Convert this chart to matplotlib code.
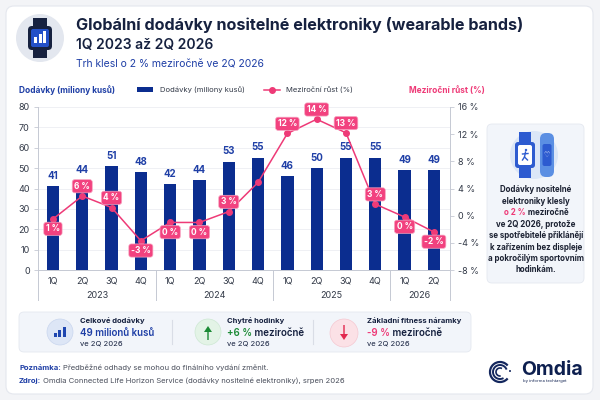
import matplotlib
matplotlib.use("Agg")
import matplotlib.pyplot as plt
from matplotlib.patches import FancyBboxPatch, Circle, Rectangle, Arc, FancyArrow
from matplotlib.lines import Line2D
from matplotlib.transforms import blended_transform_factory

plt.rcParams['font.family'] = ['Inter', 'DejaVu Sans']

# data
quarters = ['1Q', '2Q', '3Q', '4Q', '1Q', '2Q', '3Q', '4Q', '1Q', '2Q', '3Q', '4Q', '1Q', '2Q']
years = ['2023', '2024', '2025', '2026']
quarters_per_year = [4, 4, 4, 2]
shipments = [41, 44, 51, 48, 42, 44, 53, 55, 46, 50, 55, 55, 49, 49]
yoy_points = [-0.5, 2.9, 1.2, -3.7, -1.0, -1.0, 0.6, 4.9, 12.1, 14.2, 12.2, 1.7, -0.2, -2.4]
yoy_labels = ['1 %', '6 %', '4 %', '-3 %', '0 %', '0 %', '3 %', '', '12 %', '14 %', '13 %', '3 %', '0 %', '-2 %']
left_ticks = [0, 10, 20, 30, 40, 50, 60, 70, 80]
right_ticks = [-8, -4, 0, 4, 8, 12, 16]

NAVY = '#16213f'
BLUE = '#0b2d8f'
TXTBLUE = '#1f3fa6'
PINK = '#ee3a77'
GREY = '#4a4f5c'

fig = plt.figure(figsize=(6, 4), dpi=100)
fig.patch.set_facecolor('#f3f4f7')

# background / annotation layer in pixel coords
ax0 = fig.add_axes([0, 0, 1, 1])
ax0.set_xlim(0, 600)
ax0.set_ylim(400, 0)
ax0.axis('off')
ax0.set_zorder(0)
R = fig.canvas.get_renderer()


def rich(x, y, parts, ha='left', **kw):
    ts = [ax0.text(0, y, s, color=c, va='center', **kw) for s, c in parts]
    ws = [t.get_window_extent(R).width for t in ts]
    start = x - sum(ws) / 2 if ha == 'center' else x
    for t, w in zip(ts, ws):
        t.set_x(start)
        start += w
    return sum(ws)


ax0.add_patch(FancyBboxPatch((6, 6), 587, 388, boxstyle='round,pad=0,rounding_size=8',
                             fc='white', ec='#e4e7ee', lw=0.8))

# header icon
ax0.add_patch(Circle((40, 38), 24, fc='#e3e7ef', ec='none'))
ax0.add_patch(Rectangle((33, 18), 14, 40, fc=NAVY, ec='none'))
ax0.add_patch(FancyBboxPatch((28, 26), 24, 24, boxstyle='round,pad=0,rounding_size=4', fc=NAVY, ec='none'))
ax0.add_patch(FancyBboxPatch((31, 29), 18, 18, boxstyle='round,pad=0,rounding_size=2', fc='#2350c8', ec='none'))
for bx, bh in [(34, 6), (38.5, 9), (43, 12)]:
    ax0.add_patch(Rectangle((bx, 43 - bh), 3, bh, fc='white', ec='none'))

ax0.text(76, 25, 'Globální dodávky nositelné elektroniky (wearable bands)', fontsize=11.6,
         fontweight='bold', color=NAVY, va='center')
ax0.text(76, 45, '1Q 2023 až 2Q 2026', fontsize=10, fontweight='semibold', color=NAVY, va='center')
ax0.text(76, 64, 'Trh klesl o 2 % meziročně ve 2Q 2026', fontsize=7.5, color=TXTBLUE, va='center')

ax0.text(19, 90, 'Dodávky (miliony kusů)', fontsize=6, fontweight='bold', color=TXTBLUE, va='center')
ax0.text(409, 90, 'Meziroční růst (%)', fontsize=6, fontweight='bold', color=PINK, va='center')

# chart
ax = fig.add_axes([38 / 600, 130 / 400, 412 / 600, 163 / 400])
ax.set_zorder(2)
ax.patch.set_alpha(0)
x = list(range(len(shipments)))
ax.set_xlim(-0.51, 13.55)
ax.set_ylim(0, 80)
ax.bar(x, shipments, width=0.42, color=BLUE, zorder=2, label='Dodávky (miliony kusů)')
for xi, v in zip(x, shipments):
    ax.annotate(str(v), (xi, v), xytext=(0, 4), textcoords='offset points', ha='center', va='bottom',
                fontsize=7, fontweight='bold', color=TXTBLUE)
ax.set_yticks(left_ticks)
ax.set_yticklabels([str(t) for t in left_ticks])
ax.grid(axis='y', color='#eceef3', lw=0.6, zorder=0)
ax.set_xticks(x)
ax.set_xticklabels(quarters)
ax.tick_params(axis='x', length=0, pad=5, labelsize=6.5, labelcolor='#333a48')
ax.tick_params(axis='y', length=3, width=0.6, color='#c5c9d3', pad=3, labelsize=6.5, labelcolor='#333a48')
for s in ['top', 'right']:
    ax.spines[s].set_visible(False)
for s in ['left', 'bottom']:
    ax.spines[s].set_color('#c5c9d3')
    ax.spines[s].set_linewidth(0.7)

ax2 = ax.twinx()
ax2.set_ylim(-8, 16)
ax2.plot(x, yoy_points, color=PINK, lw=1.1, marker='o', ms=4, zorder=3, label='Meziroční růst (%)')
ax2.set_yticks(right_ticks)
ax2.set_yticklabels([f'{t} %' for t in right_ticks])
ax2.tick_params(axis='y', length=3, width=0.6, color='#c5c9d3', pad=3, labelsize=6.5, labelcolor='#333a48')
for s in ['top', 'left', 'bottom']:
    ax2.spines[s].set_visible(False)
ax2.spines['right'].set_color('#c5c9d3')
ax2.spines['right'].set_linewidth(0.7)

side = [-1, 1, 1, -1, -1, -1, 1, 0, 1, 1, 1, 1, -1, -1]
for xi, v, lab, sd in zip(x, yoy_points, yoy_labels, side):
    if not lab:
        continue
    ax2.annotate(lab, (xi, v), xytext=(0, 7 * sd), textcoords='offset points', ha='center',
                 va='center', fontsize=6, fontweight='bold', color='white', zorder=5,
                 bbox=dict(boxstyle='round,pad=0.25,rounding_size=0.3', fc='#f2427f', ec='#f7a3c0', lw=0.5))

# year separators and labels under axis
tb = blended_transform_factory(ax.transData, ax.transAxes)
depth = -30 / 163
for xs in [-0.51, 3.5, 7.5, 11.5, 13.55]:
    ax.add_line(Line2D([xs, xs], [0, depth], transform=tb, color='#c5c9d3', lw=0.7, clip_on=False))
start = 0
for yr, n in zip(years, quarters_per_year):
    ax.text(start + (n - 1) / 2, -25 / 163, yr, transform=tb, ha='center', va='center',
            fontsize=6.5, color='#333a48')
    start += n

# legend
h1, l1 = ax.get_legend_handles_labels()
h2, l2 = ax2.get_legend_handles_labels()
fig.legend(h1 + h2, l1 + l2, loc='center', bbox_to_anchor=(245 / 600, 1 - 90 / 400), ncol=2,
           frameon=False, fontsize=5.5, handlelength=2.2, handleheight=0.7, columnspacing=2.5,
           labelcolor='#333a48')

# right panel
ax0.add_patch(FancyBboxPatch((487, 124), 97, 159, boxstyle='round,pad=0,rounding_size=5',
                             fc='#f2f5fa', ec='#e4e8f0', lw=0.6))
ax0.add_patch(Circle((534, 155), 24, fc='#dbe6f7', ec='none'))
ax0.add_patch(Rectangle((519, 132), 12, 46, fc='#2d5bd0', ec='none'))
ax0.add_patch(FancyBboxPatch((515, 142), 20, 26, boxstyle='round,pad=0,rounding_size=3', fc='#2d5bd0', ec='none'))
ax0.add_patch(FancyBboxPatch((518, 145), 14, 20, boxstyle='round,pad=0,rounding_size=2', fc='white', ec='none'))
ax0.add_patch(Circle((526, 150), 1.2, fc='#2d5bd0', ec='none'))
ax0.plot([525.5, 524.5, 522.5], [152, 157, 160], color='#2d5bd0', lw=1)
ax0.plot([524.5, 527.5], [157, 160], color='#2d5bd0', lw=1)
ax0.plot([522.5, 528], [154, 153.5], color='#2d5bd0', lw=1)
ax0.add_patch(FancyBboxPatch((540, 133), 14, 44, boxstyle='round,pad=0,rounding_size=6', fc='#5b8fe3', ec='none'))
ax0.add_patch(FancyBboxPatch((542.5, 144), 9, 22, boxstyle='round,pad=0,rounding_size=2', fc='#2d5bd0', ec='none'))
ax0.text(547, 155, '\u2661', fontsize=5, color='white', ha='center', va='center', family='DejaVu Sans')

panel_lines = ['Dodávky nositelné', 'elektroniky klesly', None, 've 2Q 2026, protože',
               'se spotřebitelé přiklánějí', 'k zařízením bez displeje', 'a pokročilým sportovním',
               'hodinkám.']
for i, ln in enumerate(panel_lines):
    yy = 190 + i * 11.4
    if ln is None:
        rich(536, yy, [('o 2 %', PINK), (' meziročně', '#1c2233')], ha='center',
             fontsize=5.7, fontweight='bold')
    else:
        ax0.text(536, yy, ln, fontsize=5.7, fontweight='bold', color='#1c2233', ha='center', va='center')

# KPI strip
ax0.add_patch(FancyBboxPatch((19, 312), 452, 40, boxstyle='round,pad=0,rounding_size=5',
                             fc='#f2f5fa', ec='#e4e8f0', lw=0.6))
for sx in [172, 313]:
    ax0.plot([sx, sx], [320, 344], color='#d9dde6', lw=0.8)

ax0.add_patch(Circle((60, 332), 13, fc='#dde6f6', ec='#c9d6ee', lw=0.5))
for bx, bh in [(53.5, 4), (58, 7), (62.5, 10)]:
    ax0.add_patch(Rectangle((bx, 337 - bh), 3.2, bh, fc='#1e46b0', ec='none'))
ax0.add_patch(Circle((208, 332), 13, fc='#e3f3e6', ec='#cde8d3', lw=0.5))
ax0.add_patch(FancyArrow(208, 340, 0, -14, width=1.4, head_width=8, head_length=6, fc='#1b8a35', ec='none',
                         length_includes_head=True))
ax0.add_patch(Circle((344, 333), 14, fc='#fbe1e6', ec='#f5c8d1', lw=0.5))
ax0.add_patch(FancyArrow(344, 325, 0, 15, width=1.4, head_width=8, head_length=6, fc='#e2294f', ec='none',
                         length_includes_head=True))

ax0.text(80, 321, 'Celkové dodávky', fontsize=5.5, fontweight='bold', color=NAVY, va='center')
ax0.text(80, 333, '49 milionů kusů', fontsize=7, fontweight='semibold', color=TXTBLUE, va='center')
ax0.text(80, 344, 've 2Q 2026', fontsize=5.5, color=NAVY, va='center')
ax0.text(227, 321, 'Chytré hodinky', fontsize=5.5, fontweight='bold', color=NAVY, va='center')
rich(227, 333, [('+6 %', '#1b8a35'), (' meziročně', NAVY)], fontsize=7, fontweight='semibold')
ax0.text(227, 344, 've 2Q 2026', fontsize=5.5, color=NAVY, va='center')
ax0.text(367, 321, 'Základní fitness náramky', fontsize=5.5, fontweight='bold', color=NAVY, va='center')
rich(367, 333, [('-9 %', PINK), (' meziročně', NAVY)], fontsize=7, fontweight='semibold')
ax0.text(367, 344, 've 2Q 2026', fontsize=5.5, color=NAVY, va='center')

# footnotes
w = rich(19, 368, [('Poznámka:', TXTBLUE)], fontsize=5.5, fontweight='bold')
ax0.text(19 + w + 2, 368, 'Předběžné odhady se mohou do finálního vydání změnit.',
         fontsize=5.5, color=GREY, va='center')
w = rich(19, 381, [('Zdroj:', TXTBLUE)], fontsize=5.5, fontweight='bold')
ax0.text(19 + w + 2, 381,
         'Omdia Connected Life Horizon Service (dodávky nositelné elektroniky), srpen 2026',
         fontsize=5.5, color=GREY, va='center')

# Omdia logo
for r, a1, a2, lw in [(10, 40, 320, 1.6), (7, 60, 340, 1.4), (4, 80, 300, 1.2)]:
    ax0.add_patch(Arc((500, 372), 2 * r, 2 * r, theta1=a1, theta2=a2, color='#14275e', lw=lw))
ax0.add_patch(Circle((510, 371), 1.0, fc='#14275e', ec='none'))
ax0.text(521, 370, 'Omdia', fontsize=14, fontweight='bold', color='#0d1f4f', va='center')
ax0.text(523, 381, 'by informa techtarget', fontsize=3, color='#0d1f4f', va='center')

fig.savefig('out.png', dpi=100, facecolor=fig.get_facecolor())
